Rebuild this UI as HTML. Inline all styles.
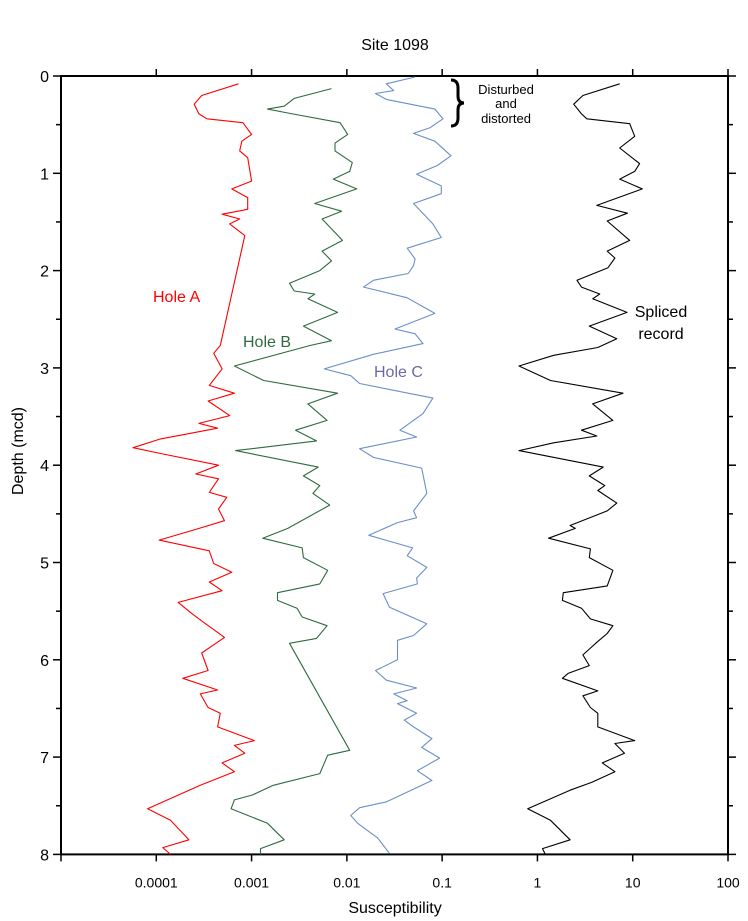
<!DOCTYPE html>
<html><head><meta charset="utf-8"><style>
html,body{margin:0;padding:0;background:#fff;}
svg{display:block;font-family:"Liberation Sans",Arial,sans-serif;}
</style></head><body>
<svg id="chart" width="748" height="921" viewBox="0 0 748 921" xmlns="http://www.w3.org/2000/svg">
<text x="395" y="50" font-size="16" text-anchor="middle">Site 1098</text>
<text x="395" y="913" font-size="16" text-anchor="middle">Susceptibility</text>
<text transform="translate(23,451) rotate(-90)" font-size="16" text-anchor="middle">Depth (mcd)</text>
<g id="axes"></g>
<g id="series"></g>
<text x="153" y="302" font-size="16" fill="#ff0000">Hole A</text>
<text x="243" y="347" font-size="16" fill="#2e6b3e">Hole B</text>
<text x="374" y="377" font-size="16" fill="#6a6aa8">Hole C</text>
<text x="661" y="317" font-size="16" text-anchor="middle">Spliced</text>
<text x="661" y="339" font-size="16" text-anchor="middle">record</text>
<path d="M451,80 Q458,80 458,88 L458,96 Q458,103 464,103 Q458,103 458,110 L458,118 Q458,126 451,126" fill="none" stroke="#000" stroke-width="3"/>
<text font-size="13" text-anchor="middle"><tspan x="506" y="94">Disturbed</tspan><tspan x="506" y="108">and</tspan><tspan x="506" y="123">distorted</tspan></text>
</svg>
<script>
const xTickVals = [0.0001, 0.001, 0.01, 0.1, 1, 10, 100];
const xTickLabels = ["0.0001", "0.001", "0.01", "0.1", "1", "10", "100"];
const yTickVals = [0, 1, 2, 3, 4, 5, 6, 7, 8];
const yTickLabels = ["0", "1", "2", "3", "4", "5", "6", "7", "8"];

const holeADepth = [0.08,0.2,0.29,0.39,0.44,0.48,0.6,0.67,0.77,0.84,1.08,1.16,1.25,1.37,1.42,1.47,1.52,1.64,2.77,2.85,3.01,3.18,3.26,3.34,3.49,3.57,3.62,3.73,3.82,3.88,4.0,4.09,4.14,4.28,4.33,4.45,4.57,4.67,4.77,4.88,5.01,5.1,5.2,5.29,5.41,5.53,5.6,5.77,5.93,6.11,6.19,6.31,6.35,6.49,6.55,6.69,6.83,6.88,6.96,7.06,7.15,7.29,7.53,7.65,7.85,7.93,8.0];
const holeAValue = [7.3e-4,3.0e-4,2.5e-4,2.8e-4,3.4e-4,8.1e-4,1.0e-3,7.9e-4,7.5e-4,9.1e-4,1.0e-3,6.2e-4,9.1e-4,9.1e-4,4.9e-4,7.5e-4,5.9e-4,8.5e-4,4.7e-4,4.0e-4,4.9e-4,3.6e-4,6.6e-4,3.5e-4,5.9e-4,2.8e-4,4.4e-4,1.11e-4,5.7e-5,1.11e-4,4.5e-4,2.6e-4,4.5e-4,3.6e-4,5.5e-4,4.5e-4,5.2e-4,2.4e-4,1.07e-4,3.6e-4,4.0e-4,6.2e-4,3.6e-4,4.9e-4,1.7e-4,2.4e-4,3.0e-4,5.2e-4,3.0e-4,3.5e-4,1.9e-4,4.4e-4,2.9e-4,3.5e-4,4.7e-4,4.4e-4,1.07e-3,6.6e-4,8.5e-4,4.9e-4,6.6e-4,2.9e-4,8.1e-5,1.41e-4,2.2e-4,1.17e-4,1.41e-4];

const holeBDepth = [0.13,0.23,0.31,0.34,0.38,0.48,0.6,0.69,0.77,0.89,0.98,1.06,1.16,1.31,1.39,1.47,1.69,1.8,1.9,2.0,2.13,2.21,2.24,2.29,2.43,2.57,2.72,2.77,2.98,3.13,3.26,3.37,3.54,3.64,3.75,3.85,4.02,4.11,4.21,4.29,4.41,4.65,4.75,4.85,4.95,5.08,5.22,5.31,5.39,5.47,5.56,5.65,5.78,5.83,6.93,6.98,7.17,7.29,7.39,7.44,7.53,7.68,7.85,7.94,8.0];
const holeBValue = [6.9e-3,2.8e-3,2.2e-3,1.47e-3,2.4e-3,8.5e-3,1.02e-2,7.5e-3,7.5e-3,1.14e-2,1.07e-2,7.2e-3,1.27e-2,4.6e-3,8.8e-3,5.5e-3,9.0e-3,5.5e-3,6.9e-3,5.2e-3,2.5e-3,2.8e-3,4.6e-3,3.9e-3,8.0e-3,3.5e-3,6.9e-3,4.1e-3,6.6e-4,1.34e-3,8.0e-3,3.9e-3,6.2e-3,2.9e-3,4.8e-3,6.8e-4,5.0e-3,3.5e-3,5.2e-3,4.4e-3,6.6e-3,2.4e-3,1.31e-3,3.4e-3,3.5e-3,6.3e-3,5.2e-3,1.87e-3,1.87e-3,3.0e-3,3.4e-3,6.2e-3,4.8e-3,2.5e-3,1.07e-2,6.3e-3,5.2e-3,1.69e-3,1.02e-3,6.6e-4,6.1e-4,1.47e-3,2.2e-3,1.24e-3,1.24e-3];

const holeCDepth = [0.01,0.08,0.15,0.18,0.24,0.34,0.44,0.53,0.59,0.67,0.82,0.92,1.01,1.13,1.21,1.31,1.52,1.66,1.77,1.88,1.95,2.03,2.1,2.17,2.28,2.44,2.6,2.65,2.75,2.86,3.01,3.08,3.16,3.31,3.47,3.64,3.71,3.83,3.92,4.03,4.29,4.47,4.54,4.59,4.72,4.85,4.93,5.05,5.16,5.22,5.32,5.46,5.63,5.75,5.8,6.0,6.11,6.21,6.29,6.35,6.42,6.45,6.55,6.62,6.69,6.81,6.9,7.01,7.14,7.24,7.46,7.52,7.6,7.68,7.83,7.99];
const holeCValue = [0.052,0.026,0.031,0.020,0.026,0.084,0.102,0.075,0.050,0.084,0.124,0.089,0.054,0.098,0.098,0.050,0.080,0.098,0.043,0.052,0.050,0.044,0.019,0.015,0.043,0.084,0.032,0.052,0.063,0.019,0.0058,0.011,0.0136,0.080,0.063,0.036,0.054,0.0136,0.019,0.061,0.069,0.050,0.054,0.034,0.017,0.049,0.043,0.069,0.054,0.055,0.024,0.028,0.069,0.050,0.034,0.034,0.020,0.026,0.054,0.031,0.043,0.034,0.054,0.040,0.050,0.078,0.061,0.094,0.055,0.078,0.026,0.0136,0.011,0.013,0.021,0.028];

const splicedDepth = [0.08,0.2,0.29,0.39,0.44,0.49,0.62,0.74,0.9,0.98,1.06,1.16,1.33,1.41,1.49,1.69,1.8,1.87,1.97,2.1,2.17,2.24,2.29,2.43,2.57,2.7,2.79,2.87,2.98,3.13,3.26,3.37,3.54,3.64,3.7,3.77,3.85,4.02,4.11,4.21,4.26,4.39,4.47,4.62,4.65,4.75,4.86,4.95,5.08,5.24,5.31,5.39,5.47,5.58,5.65,5.73,5.82,5.88,5.95,6.06,6.14,6.19,6.32,6.37,6.49,6.55,6.69,6.83,6.86,6.96,7.06,7.15,7.26,7.34,7.53,7.65,7.85,7.94,8.0];
const splicedValue = [7.3,3.0,2.4,2.9,3.3,9.3,10.5,7.3,11.8,10.5,7.3,12.6,4.2,8.8,5.4,9.3,5.4,6.5,5.5,2.6,2.9,4.5,3.8,8.7,3.5,6.8,4.3,1.48,0.64,1.37,7.9,3.8,6.2,2.9,4.2,1.48,0.64,4.9,3.5,5.1,4.3,6.8,5.4,2.2,2.5,1.31,3.6,3.5,6.2,5.4,1.87,1.83,2.9,3.6,6.2,5.4,4.2,3.6,3.0,3.5,2.1,1.83,4.3,3.0,3.6,4.3,4.3,10.5,6.5,8.2,4.8,6.5,3.7,2.2,0.79,1.37,2.2,1.13,1.21];

const PL = 61, PR = 728, PT = 76, PB = 854.4;
const X_MIN = -5, X_MAX = 2, Y_MIN = 0, Y_MAX = 8;
function xScale(v){ return PL + (Math.log10(v) - X_MIN) / (X_MAX - X_MIN) * (PR - PL); }
function yScale(d){ return PT + (d - Y_MIN) / (Y_MAX - Y_MIN) * (PB - PT); }

const NS = "http://www.w3.org/2000/svg";
const axes = document.getElementById("axes");
const seriesG = document.getElementById("series");
function mk(tag, attrs, parent){
  const e = document.createElementNS(NS, tag);
  for (const k in attrs) e.setAttribute(k, attrs[k]);
  parent.appendChild(e);
  return e;
}

// frame
const frame = mk("rect", {x:PL, y:PT, width:PR-PL, height:PB-PT, fill:"none", stroke:"#000", "stroke-width":"2"}, axes);



// x ticks
xTickVals.forEach((v, i) => {
  const x = xScale(v);
  const t1 = mk("line", {x1:x, x2:x, y1:PT, y2:PT-7, stroke:"#000", "stroke-width":"1.5"}, axes);
  
  
  const t2 = mk("line", {x1:x, x2:x, y1:PB, y2:PB+7, stroke:"#000", "stroke-width":"1.5"}, axes);
  
  
  const lb = mk("text", {x:x, y:PB+33, "font-size":"14", "text-anchor":"middle"}, axes);
  lb.textContent = xTickLabels[i];
  
  
});
// left-most tick (1e-5) bottom
const t0 = mk("line", {x1:PL, x2:PL, y1:PB, y2:PB+7, stroke:"#000", "stroke-width":"1.5"}, axes);



// y ticks
yTickVals.forEach((d, i) => {
  const y = yScale(d);
  const t = mk("line", {x1:PL, x2:PL-8, y1:y, y2:y, stroke:"#000", "stroke-width":"1.5"}, axes);
  
  
  const tr = mk("line", {x1:PR, x2:PR+8, y1:y, y2:y, stroke:"#000", "stroke-width":"1.5"}, axes);
  
  
  const lb = mk("text", {x:PL-12, y:y+6, "font-size":"16", "text-anchor":"end"}, axes);
  lb.textContent = yTickLabels[i];
  
  
  if (i < yTickVals.length - 1) {
    const ym = yScale(d + 0.5);
    const m = mk("line", {x1:PL, x2:PL-5, y1:ym, y2:ym, stroke:"#000", "stroke-width":"1.5"}, axes);
    
    
    const mr = mk("line", {x1:PR, x2:PR+5, y1:ym, y2:ym, stroke:"#000", "stroke-width":"1.5"}, axes);
    
    
  }
});

function drawSeries(depths, values, color, name){
  const pts = depths.map((d, i) => xScale(values[i]).toFixed(1) + "," + yScale(d).toFixed(1)).join(" ");
  const pl = mk("polyline", {points:pts, fill:"none", stroke:color, "stroke-width":"1.1", "stroke-linejoin":"round"}, seriesG);
  
  
}
drawSeries(holeADepth, holeAValue, "#ff0000", "hole-a-line");
drawSeries(holeBDepth, holeBValue, "#2e6b3e", "hole-b-line");
drawSeries(holeCDepth, holeCValue, "#6b8fc8", "hole-c-line");
drawSeries(splicedDepth, splicedValue, "#000000", "spliced-record-line");
</script>
</body></html>
